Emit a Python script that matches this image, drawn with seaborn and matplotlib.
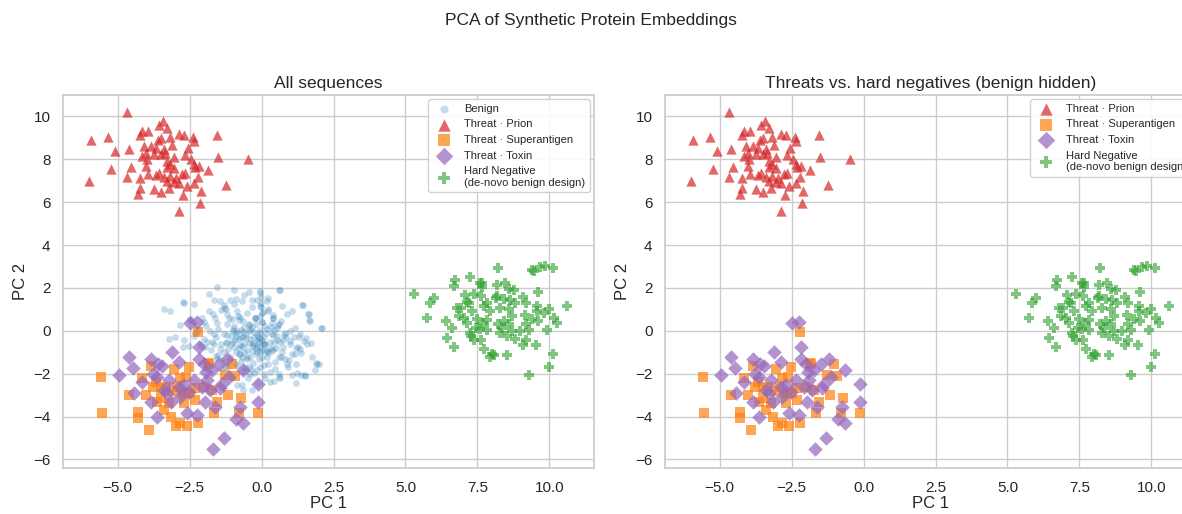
"""
PCA of synthetic protein embeddings - two panel scatter chart.
Left: all sequences, right: threats vs. hard negatives (benign hidden).
"""

import matplotlib

matplotlib.use("Agg")

import matplotlib.pyplot as plt
import pandas as pd
import seaborn as sns


# ====================================================================
# Data (PC1, PC2)
# ====================================================================

BENIGN_PC1 = [
    -3.40, -3.17, -2.73, -2.36, -1.84, -1.55, -1.67, -1.44, -1.09, -0.97,
    -0.68, -0.42, -0.16, -0.05, -0.05, 0.24, 0.62, 0.70, 0.88, 1.05,
    1.43, 1.63, 1.67, 2.09, 1.57, 1.74, 1.92, 1.51, 1.22, 1.05,
    0.70, 0.88, 0.47, 0.24, 0.65, 0.36, 0.07, -0.16, -0.28, -0.45,
    -0.63, -0.80, -0.97, -1.21, -1.32, -1.55, -1.78, -2.01, -2.13, -2.36,
    -3.00, -3.23, -2.73, -1.44, -1.55, -1.09, -0.74, -0.39, -0.57, -0.05,
    -0.16, 0.18, -0.34, -0.68, -0.05, 0.12, -0.22, -0.51, -0.86, 0.41,
    0.59, 0.82, 1.11, 1.28, 1.34, 0.99, -1.84, -2.07, -1.32, -1.03,
    -1.67, -1.21, -0.86, -0.63, -0.45, -0.69, -0.92, -1.26, -0.40, 0.07,
    0.59, 0.30, -0.86, -0.63, -2.71, -2.53, -2.70, -0.69, -0.34,
    0.63, -0.06, 1.42, 1.64, 1.64, 2.05, 0.98, 1.29, 1.47, 1.73,
    1.15, 1.21, 1.90, 1.98, 1.84, 1.50, 1.38, 1.04, 1.21, 0.63,
    0.29, 0.92, 0.46, 0.69, 0.40, 0.75, 0.86, 0.52, 0.69, 0.23,
    0.40, 0.12, -0.12, 0.17, 0.00,
    -1.20, -1.00, -0.90, -0.80, -0.70, -0.60, -0.50, -0.40, -0.30, -0.20,
    -0.10, 0.00, 0.10, 0.20, 0.30, -1.40, -1.30, -1.10, -0.90, -0.70,
    -0.50, -0.30, -0.10, 0.10, -1.60, -1.50, -1.20, -1.00, -0.80, -0.60,
    -0.40, -0.20, 0.00, 0.20, 0.40, 0.50, 0.60, -0.15, -0.35, -0.55,
    -0.75, -0.95, -1.15, -0.25, -0.05, 0.15, -0.45, -0.85, -1.35, -1.75,
    -1.90, -2.20, -2.00, -1.70, -1.30, -0.90, -0.35, 0.05, 0.35, -0.05,
    -0.25, -0.65, -0.02, -0.03, -0.04, -0.06,
    # denser core and fringe
    -0.42, -0.18, 0.02, -0.62, -0.88, -1.08, -0.32, -0.12, 0.08, 0.28,
    -0.52, -0.72, -0.92, -1.12, -0.22, 0.02, 0.22, 0.42, -0.38, -0.58,
    -0.78, -0.98, -0.18, 0.02, 0.32, 0.52, -1.52, -1.72, -1.92, -2.12,
    -2.32, -2.52, -1.62, -1.42, -1.22, -0.02, 0.18, 0.38, 0.58, 0.78,
    0.98, 1.18, 1.38, 0.82, 0.62, 0.42, -0.48, -0.28, -0.68, -1.02,
    -1.18, -1.38, -1.58, -0.12, 0.12, -0.82, -0.62, 0.22, 0.44, -0.04,
    -2.45, -2.85, -1.95, -1.05, -0.55, 0.75, 1.15, 1.55, -0.15, -0.45,
    -1.25, -0.75, 0.35, 0.95, -0.95, -0.35, -1.65, -2.25, 0.55, 1.35,
]
BENIGN_PC2 = [
    1.00, 0.92, 1.34, 1.23, 1.72, 2.03, 1.46, 1.38, 1.42, 1.92,
    1.38, 1.82, 1.42, 1.85, 1.15, 1.54, 1.92, 1.15, 0.77, 0.92,
    1.20, 0.77, 0.46, 0.12, -0.62, -1.23, -1.54, -2.08, -1.97, -1.08,
    -1.00, -1.54, -1.77, -1.54, -0.54, -0.15, -0.62, -0.77, -0.31, 0.00,
    0.46, -0.38, 0.23, 0.77, -0.15, 0.38, 0.00, -0.38, -0.62, -0.23,
    -0.31, -0.38, -0.77, -0.85, -1.31, -1.23, -1.08, -1.23, -1.69, -1.69,
    -1.00, -0.92, -0.62, -0.69, -0.08, 0.23, 0.62, 0.85, 0.92, 0.62,
    0.31, -0.08, -0.31, -0.77, -0.15, -0.62, 0.92, 0.62, 1.08, 0.54,
    -0.62, -0.54, 0.00, -0.31, 0.31, -1.23, -1.54, -1.69, -2.00, -2.00,
    -2.15, -2.38, -2.54, -2.77, -0.43, -0.69, 1.31, -2.54, -2.77,
    1.92, 1.77, 1.20, 0.80, 0.49, 0.12, 0.00, -0.28, -0.49, -0.58,
    -1.08, -1.57, -1.51, -1.57, -1.85, -2.12, -2.08, -2.08, -2.43, -2.18,
    -1.92, -1.69, -1.46, -1.23, -0.85, -0.77, -0.31, 0.15, 0.46, 0.92,
    0.62, -0.62, -0.46, -0.08, -1.23,
    -0.20, -0.50, -0.10, -0.80, -0.30, -0.60, -0.90, -0.40, -0.70, -1.10,
    -0.50, -0.90, -0.30, -1.20, -0.50, -0.60, -1.00, -1.30, -1.00, -1.40,
    -1.20, -1.50, -1.30, -1.60, -0.30, 0.10, 0.30, 0.10, 0.50, 0.20,
    0.10, 0.30, 0.40, 0.10, -0.20, -0.80, -1.20, -0.20, -0.95, -0.35,
    -0.65, -0.75, -0.85, -0.55, -0.75, -0.95, -1.70, -1.60, -1.40, -0.90,
    -0.50, 0.10, 0.40, 0.80, 1.20, 1.50, 1.10, 0.90, 0.35, 0.05,
    -0.05, -0.05, 1.60, 1.30, 0.70, -1.00,
    -0.58, -0.82, -0.42, -0.98, -0.22, -0.62, 0.18, -0.28, -0.62, -0.78,
    -1.32, 0.02, -0.42, 0.58, 0.62, 0.82, 1.02, -0.52, -1.78, -1.88,
    -1.08, -0.02, 0.62, 0.42, 0.18, -0.42, -1.12, -0.52, 0.22, -0.72,
    -0.12, 0.52, 0.58, 0.98, 1.02, 1.12, 1.38, 0.72, 0.28, -0.18,
    -0.48, -0.78, -1.02, -1.32, -2.02, -2.32, -2.18, -1.98, -1.88, -2.22,
    -1.62, -1.72, -1.18, -2.42, -2.22, 0.68, 1.68, -1.02, 0.02, -0.32,
    0.55, 0.25, -0.75, -0.25, -0.15, -0.45, 0.15, -0.35, -1.85, 0.25,
    -0.55, 0.65, -0.95, -1.35, 1.25, 1.45, -0.15, -0.05, -0.25, -0.85,
]

PRION_PC1 = [
    -4.66, -5.94, -5.34, -5.11, -6.01, -5.23, -4.60, -4.54, -4.69, -4.24,
    -3.94, -4.17, -3.57, -3.43, -3.30, -3.51, -3.60, -3.17, -2.88, -2.68,
    -2.39, -2.36, -1.54, -3.11, -4.08, -3.85, -3.68, -4.02, -4.14, -3.74,
    -3.51, -3.34, -3.05, -2.57, -2.65, -2.45, -1.50, -0.47, -3.30, -3.19,
    -4.02, -3.28, -3.05, -2.65, -2.36, -2.31, -2.16, -1.85, -3.94, -3.68,
    -3.57, -3.39, -3.17, -2.99, -2.76, -4.23, -2.22, -2.36, -1.22, -3.30,
    -3.05, -2.88, -2.59, -4.23, -3.74, -3.22, -3.49, -4.31, -2.09, -2.72,
    -2.14, -2.86, -3.97, -3.39,
]
PRION_PC2 = [
    10.20, 8.89, 9.03, 8.38, 7.00, 7.54, 8.49, 7.65, 7.18, 9.15,
    9.34, 9.31, 9.58, 9.77, 9.46, 9.00, 8.92, 9.03, 9.18, 9.15,
    9.05, 8.85, 9.12, 8.69, 8.62, 8.62, 8.54, 8.31, 8.15, 8.26,
    8.23, 8.31, 8.12, 8.51, 8.18, 8.03, 8.11, 8.00, 7.92, 7.77,
    7.69, 7.62, 7.58, 7.38, 7.77, 7.65, 7.69, 7.49, 7.31, 7.26,
    7.38, 7.18, 7.23, 7.12, 7.31, 7.15, 7.18, 6.88, 6.82, 6.97,
    6.92, 6.88, 6.77, 6.66, 6.62, 6.65, 6.46, 6.38, 6.54, 6.34,
    5.95, 5.58, 8.00, 8.46,
]

SUPERANTIGEN_PC1 = [
    -5.57, -5.55, -4.60, -4.31, -4.29, -3.91, -3.85, -4.02, -4.14, -3.79,
    -3.68, -3.51, -3.39, -3.16, -2.99, -2.82, -2.59, -2.22, -2.22, -3.05,
    -2.53, -2.76, -2.47, -2.30, -2.01, -1.84, -1.03, -1.26, -0.92, -1.55,
    -1.15, -0.71, -0.80, -0.11, -1.67, -2.61, -3.33, -2.93, -3.51, -2.70,
    -3.22, -3.62, -2.30, -1.72, -2.85, -3.10, -2.66, -1.85,
]
SUPERANTIGEN_PC2 = [
    -2.15, -3.85, -3.00, -3.77, -4.05, -4.65, -1.62, -3.00, -2.18, -2.62,
    -2.38, -3.15, -3.69, -4.03, -4.46, -4.31, -4.46, -4.31, -0.05, -1.77,
    -1.69, -2.92, -2.89, -3.23, -2.62, -1.54, -1.57, -2.08, -2.12, -3.31,
    -3.00, -3.15, -3.85, -3.82, -3.82, -2.15, -2.62, -2.62, -2.69, -3.38,
    -3.38, -3.31, -2.65, -2.77, -2.18, -2.80, -2.92, -1.49,
]

TOXIN_PC1 = [
    -2.47, -2.24, -2.18, -4.60, -4.48, -4.94, -4.43, -4.14, -3.83, -3.60,
    -3.45, -3.10, -2.87, -3.79, -3.62, -3.22, -3.83, -3.64, -3.39, -3.16,
    -2.87, -2.82, -2.53, -2.59, -2.24, -2.18, -1.99, -1.92, -1.90, -2.07,
    -1.78, -1.44, -1.21, -1.49, -0.63, -1.13, -1.38, -0.75, -0.89, -0.63,
    -1.30, -1.69, -0.11, -0.11, -2.70, -2.36, -3.28, -1.72, -1.61, -1.95,
]
TOXIN_PC2 = [
    0.38, 0.43, -0.77, -1.23, -1.72, -2.08, -2.89, -2.38, -1.31, -1.57,
    -1.62, -1.00, -1.46, -2.03, -2.15, -2.31, -3.31, -4.00, -2.77, -3.31,
    -2.62, -3.08, -2.85, -3.85, -3.92, -1.31, -1.57, -1.92, -2.31, -2.62,
    -2.77, -2.69, -1.31, -1.57, -1.85, -2.15, -2.46, -3.54, -4.12, -4.28,
    -5.00, -5.51, -2.49, -3.31, -2.54, -2.31, -2.92, -1.85, -3.54, -3.31,
]

HARD_NEG_PC1 = [
    5.29, 5.75, 5.86, 5.98, 6.40, 6.60, 6.44, 6.67, 6.72, 6.69,
    7.24, 7.06, 7.13, 7.21, 6.92, 6.86, 7.03, 7.32, 7.38, 7.59,
    7.67, 7.63, 7.72, 7.95, 7.49, 7.70, 7.82, 7.44, 7.59, 7.84,
    7.26, 7.38, 7.63, 7.24, 7.72, 7.95, 8.07, 8.51, 8.13, 8.18,
    8.21, 8.47, 8.59, 8.78, 8.41, 8.64, 8.82, 9.09, 9.17, 8.30,
    8.59, 8.70, 8.41, 8.21, 8.36, 8.59, 8.70, 8.30, 8.51, 8.82,
    8.99, 9.17, 9.10, 9.28, 9.55, 9.14, 9.41, 9.56, 9.60, 9.91,
    9.82, 10.00, 10.16, 10.26, 10.60, 9.60, 9.39, 9.45, 9.68, 9.85,
    10.11, 10.11, 9.97, 9.28, 8.01, 7.67, 8.18, 7.13, 6.80, 7.84,
    9.17, 9.56,
]
HARD_NEG_PC2 = [
    1.74, 0.61, 1.29, 1.52, 0.45, 0.11, -0.35, -0.76, 2.35, 2.08,
    2.50, 1.67, 1.36, 1.29, 1.06, 0.68, 0.61, 0.91, 1.74, 2.23,
    2.05, 1.62, 1.14, 0.91, 0.53, 0.38, 0.50, 0.15, 0.08, 0.05,
    -0.23, -0.41, -0.45, -0.08, -0.83, -1.21, -1.14, -1.14, 1.52, 2.12,
    2.95, 2.23, 1.97, 1.89, 1.47, 1.44, 1.29, 1.59, 1.29, 1.06,
    1.02, 0.68, 0.45, 0.30, 0.15, 0.30, 0.00, -0.08, -0.23, -0.38,
    0.00, -0.45, -0.68, 0.05, -0.68, 0.76, 0.53, 0.91, 0.45, 0.05,
    0.83, 1.02, 0.61, 0.35, 1.17, 1.82, 2.83, 2.77, 2.98, 3.03,
    2.95, -1.06, -1.67, -2.08, -1.06, 2.23, 1.62, 0.38, 1.06, 1.29,
    0.30, 1.14,
]

# label, pc1, pc2, colour, marker, size, alpha
GROUPS = [
    ("Benign", BENIGN_PC1, BENIGN_PC2, "#1f77b4", "o", 24, 0.25),
    ("Threat · Prion", PRION_PC1, PRION_PC2, "#d62728", "^", 55, 0.7),
    ("Threat · Superantigen", SUPERANTIGEN_PC1, SUPERANTIGEN_PC2,
     "#ff7f0e", "s", 50, 0.7),
    ("Threat · Toxin", TOXIN_PC1, TOXIN_PC2, "#9467bd", "D", 55, 0.7),
    ("Hard Negative\n(de-novo benign design)", HARD_NEG_PC1, HARD_NEG_PC2,
     "#2ca02c", "P", 58, 0.6),
]


def draw_panel(ax, groups, title):
    """Draw the scatter for the given groups on one axes."""
    for label, pc1, pc2, colour, marker, size, alpha in groups:
        frame = pd.DataFrame({"PC 1": pc1, "PC 2": pc2})
        sns.scatterplot(
            data=frame,
            x="PC 1",
            y="PC 2",
            color=colour,
            marker=marker,
            s=size,
            alpha=alpha,
            linewidth=0,
            label=label,
            ax=ax,
        )

    ax.set_title(title, fontsize=12.5, pad=5)
    ax.set_xlabel("PC 1", fontsize=12, labelpad=1)
    ax.set_ylabel("PC 2", fontsize=12)
    ax.tick_params(labelsize=11, pad=3)
    ax.legend(
        loc="upper right",
        fontsize=8,
        frameon=True,
        framealpha=0.9,
        markerscale=1.2,
        borderaxespad=0.4,
    )


sns.set_theme(style="whitegrid")
plt.rcParams["font.family"] = ["Liberation Sans", "DejaVu Sans"]

fig = plt.figure(figsize=(11.82, 5.14), dpi=100)

# the right panel runs a little past the figure edge, as in the reference
ax_all = fig.add_axes([63 / 1182, 46 / 514, 531 / 1182, 373 / 514])
ax_thr = fig.add_axes([665 / 1182, 46 / 514, 531 / 1182, 373 / 514])

draw_panel(ax_all, GROUPS, "All sequences")
draw_panel(ax_thr, GROUPS[1:], "Threats vs. hard negatives (benign hidden)")

for ax in (ax_all, ax_thr):
    ax.set_xlim(-6.9, 11.55)
    ax.set_ylim(-6.4, 11.0)

fig.suptitle("PCA of Synthetic Protein Embeddings", fontsize=12.5, y=0.975)

fig.savefig("out.png", dpi=100)
plt.close(fig)
